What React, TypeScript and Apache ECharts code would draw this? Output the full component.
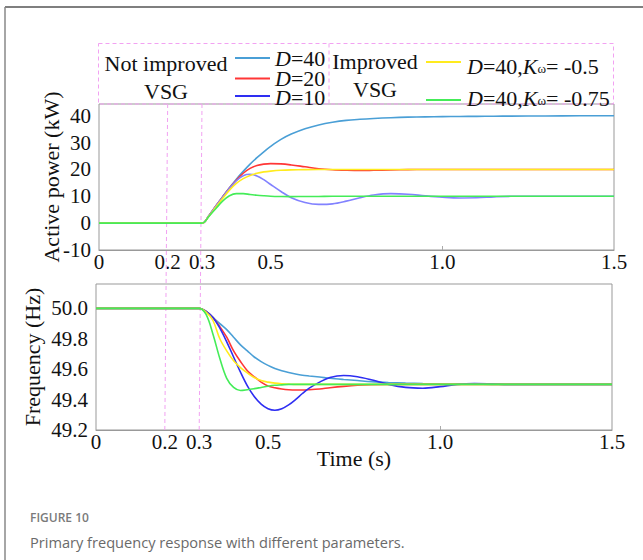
import React, { useEffect, useRef } from "react";
import * as echarts from "echarts";

// ---------- data ----------
const timeP = [0, 0.3, 0.32, 0.34, 0.36, 0.38, 0.4, 0.42, 0.44, 0.46, 0.48, 0.5, 0.53, 0.56, 0.6, 0.64, 0.68, 0.72, 0.76, 0.8, 0.85, 0.9, 0.95, 1.0, 1.05, 1.1, 1.15, 1.2, 1.3, 1.4, 1.5];
const powerD40 = [0, 0, 2.8, 6.3, 9.8, 13.2, 16.4, 19.3, 22.0, 24.4, 26.6, 28.6, 31.2, 33.2, 35.2, 36.6, 37.6, 38.3, 38.7, 39.0, 39.3, 39.5, 39.6, 39.7, 39.75, 39.8, 39.85, 39.9, 39.95, 40, 40];
const powerD20 = [0, 0, 2.8, 6.3, 9.8, 13.1, 16.0, 18.6, 20.4, 21.5, 22.0, 22.2, 22.1, 21.7, 21.0, 20.3, 19.9, 19.7, 19.6, 19.7, 19.85, 19.95, 20, 20, 20, 20, 20, 20, 20, 20, 20];
const powerD10 = [0, 0, 2.8, 6.3, 9.7, 13.0, 15.8, 17.7, 18.2, 17.6, 16.2, 14.4, 11.8, 9.5, 7.7, 7.0, 7.2, 8.2, 9.5, 10.5, 11.0, 10.8, 10.2, 9.7, 9.4, 9.45, 9.8, 10.0, 10.0, 10.0, 10.0];
const powerK05 = [0, 0, 2.6, 5.9, 9.2, 12.3, 14.8, 16.6, 17.8, 18.6, 19.1, 19.4, 19.7, 19.85, 19.95, 20, 20, 20, 20, 20, 20, 20, 20, 20, 20, 20, 20, 20, 20, 20, 20];
const powerK075 = [0, 0, 2.5, 5.4, 8.2, 10.2, 11.0, 11.0, 10.7, 10.4, 10.2, 10.05, 9.95, 9.9, 9.92, 9.95, 10, 10, 10, 10, 10, 10, 10, 10, 10, 10, 10, 10, 10, 10, 10];

const timeF = [0, 0.3, 0.32, 0.34, 0.36, 0.38, 0.4, 0.42, 0.44, 0.46, 0.48, 0.5, 0.52, 0.54, 0.56, 0.58, 0.6, 0.62, 0.65, 0.68, 0.72, 0.76, 0.8, 0.85, 0.9, 0.95, 1.0, 1.05, 1.1, 1.15, 1.2, 1.3, 1.4, 1.5];
const freqD40 = [50.0, 50.0, 49.98, 49.94, 49.9, 49.86, 49.81, 49.76, 49.72, 49.68, 49.65, 49.625, 49.605, 49.59, 49.578, 49.568, 49.56, 49.555, 49.548, 49.54, 49.532, 49.525, 49.518, 49.512, 49.508, 49.505, 49.503, 49.502, 49.501, 49.5, 49.5, 49.5, 49.5, 49.5];
const freqD20 = [50.0, 50.0, 49.98, 49.94, 49.88, 49.81, 49.72, 49.65, 49.59, 49.55, 49.515, 49.49, 49.478, 49.47, 49.465, 49.463, 49.463, 49.465, 49.47, 49.478, 49.487, 49.494, 49.498, 49.5, 49.5, 49.5, 49.5, 49.5, 49.5, 49.5, 49.5, 49.5, 49.5, 49.5];
const freqD10 = [50.0, 50.0, 49.98, 49.94, 49.87, 49.78, 49.68, 49.58, 49.49, 49.42, 49.37, 49.34, 49.33, 49.34, 49.365, 49.4, 49.44, 49.475, 49.515, 49.545, 49.558, 49.55, 49.53, 49.5, 49.48, 49.475, 49.485, 49.5, 49.505, 49.503, 49.5, 49.5, 49.5, 49.5];
const freqK05 = [50.0, 50.0, 49.975, 49.92, 49.8, 49.72, 49.655, 49.61, 49.575, 49.545, 49.525, 49.515, 49.508, 49.504, 49.502, 49.5, 49.5, 49.5, 49.5, 49.5, 49.5, 49.5, 49.5, 49.5, 49.5, 49.5, 49.5, 49.5, 49.5, 49.5, 49.5, 49.5, 49.5, 49.5];
const freqK075 = [50.0, 50.0, 49.96, 49.83, 49.67, 49.54, 49.48, 49.46, 49.465, 49.472, 49.48, 49.488, 49.494, 49.497, 49.5, 49.5, 49.5, 49.5, 49.5, 49.5, 49.5, 49.5, 49.5, 49.5, 49.5, 49.5, 49.5, 49.5, 49.5, 49.5, 49.5, 49.5, 49.5, 49.5];

const xTickValues = [0, 0.2, 0.3, 0.5, 1.0, 1.5];
const xInnerTicks = [1.0];
const powerTicks = [-10, 0, 10, 20, 30, 40];
const freqTicks = [49.2, 49.4, 49.6, 49.8, 50.0];
const markerTimes = [0.2, 0.3];

const legendLeftTitle = ["Not improved", "VSG"];
const legendRightTitle = ["Improved", "VSG"];
const legendLeftItems = ["{i|D}=40", "{i|D}=20", "{i|D}=10"];
const legendRightItems = ["{i|D}=40,{i|K}{s|ω}= -0.5", "{i|D}=40,{i|K}{s|ω}= -0.75"];

// ---------- style ----------
const SERIF = '"Liberation Serif", "Times New Roman", serif';
const C40 = "#4a9fd6";
const C20 = "#ff3636";
const C10TOP = "#8282ff";
const C10 = "#2e2ef2";
const CK05 = "#ffeb1e";
const CK075 = "#44ec58";
const PINK = "#f2a2f2";

const zip = (t: number[], v: number[]) => t.map((x, i) => [x, v[i]]);

export default function App() {
  const ref = useRef<HTMLDivElement>(null);

  useEffect(() => {
    if (!ref.current) return;
    const chart = echarts.init(ref.current, undefined, { renderer: "svg" });

    const xAxisCommon = (gridIndex: number) => ({
      type: "value" as const,
      gridIndex,
      position: "bottom" as const,
      min: 0,
      max: 1.5,
      axisLine: { show: true, onZero: false, lineStyle: { color: "#999", width: 1 } },
      splitLine: { show: false },
      axisTick: {
        show: true,
        inside: true,
        length: 4,
        customValues: xInnerTicks,
        lineStyle: { color: "#aaa" },
      },
      axisLabel: {
        customValues: xTickValues,
        formatter: (v: number) => (v === 0 ? "0" : v.toFixed(1)),
        fontFamily: SERIF,
        fontSize: 21,
        color: "#111",
        margin: 1,
      },
    });

    const line = (
      name: string,
      t: number[],
      v: number[],
      color: string,
      idx: number
    ) => ({
      name,
      type: "line" as const,
      xAxisIndex: idx,
      yAxisIndex: idx,
      data: zip(t, v),
      showSymbol: false,
      smooth: 0.35,
      lineStyle: { color, width: 1.6 },
      itemStyle: { color },
    });

    chart.setOption({
      animation: false,
      backgroundColor: "#fff",
      grid: [
        { left: 99, top: 104, width: 515, height: 146, show: true, borderColor: "#999", borderWidth: 1 },
        { left: 96, top: 284, width: 516, height: 146, show: true, borderColor: "#999", borderWidth: 1 },
      ],
      xAxis: [
        xAxisCommon(0),
        {
          ...xAxisCommon(1),
          name: "Time (s)",
          nameLocation: "middle",
          nameGap: 17,
          nameMoveOverlap: false,
          nameTextStyle: { fontFamily: SERIF, fontSize: 22, color: "#111" },
        },
      ],
      yAxis: [
        {
          type: "value",
          gridIndex: 0,
          min: -10,
          max: 44.4,
          axisLine: { show: false, onZero: false },
          axisTick: { show: false },
          splitLine: { show: false },
          axisLabel: {
            customValues: powerTicks,
            fontFamily: SERIF,
            fontSize: 21,
            color: "#111",
            margin: 8,
          },
          name: "Active power (kW)",
          nameLocation: "middle",
          nameGap: 37,
          nameMoveOverlap: false,
          nameTextStyle: { fontFamily: SERIF, fontSize: 22, color: "#111" },
        },
        {
          type: "value",
          gridIndex: 1,
          min: 49.2,
          max: 50.16,
          axisLine: { show: false, onZero: false },
          axisTick: { show: false },
          splitLine: { show: false },
          axisLabel: {
            customValues: freqTicks,
            formatter: (v: number) => v.toFixed(1),
            fontFamily: SERIF,
            fontSize: 21,
            color: "#111",
            margin: 8,
          },
          name: "Frequency (Hz)",
          nameLocation: "middle",
          nameGap: 53,
          nameMoveOverlap: false,
          nameTextStyle: { fontFamily: SERIF, fontSize: 22, color: "#111" },
        },
      ],
      series: [
        line("D=40", timeP, powerD40, C40, 0),
        line("D=20", timeP, powerD20, C20, 0),
        line("D=10", timeP, powerD10, C10TOP, 0),
        line("D=40,Kω=-0.5", timeP, powerK05, CK05, 0),
        line("D=40,Kω=-0.75", timeP, powerK075, CK075, 0),
        line("D=40 f", timeF, freqD40, C40, 1),
        line("D=20 f", timeF, freqD20, C20, 1),
        line("D=10 f", timeF, freqD10, C10, 1),
        line("D=40,Kω=-0.5 f", timeF, freqK05, CK05, 1),
        line("D=40,Kω=-0.75 f", timeF, freqK075, CK075, 1),
      ],
    });

    // dashed markers through both plots, positioned with the axes' scales
    const topY = 104;
    const botY = 430;
    const markers = markerTimes.map((t) => {
      const xa = chart.convertToPixel({ xAxisIndex: 0 }, t) as number;
      const xb = chart.convertToPixel({ xAxisIndex: 1 }, t) as number;
      return {
        type: "line",
        shape: { x1: xa, y1: topY, x2: xb, y2: botY },
        style: { stroke: PINK, lineWidth: 1, lineDash: [4, 3] },
        z: 1,
        silent: true,
      };
    });

    const rich = {
      i: { fontStyle: "italic", fontFamily: SERIF, fontSize: 22, fill: "#111", lineHeight: 17 },
      s: { fontFamily: SERIF, fontSize: 13, fill: "#111", verticalAlign: "bottom", lineHeight: 12 },
    };

    const txt = (text: string, x: number, y: number, align: string) => ({
      type: "text",
      x,
      y,
      z: 10,
      style: {
        text,
        fontFamily: SERIF,
        fontSize: 22,
        lineHeight: 17,
        fill: "#111",
        align,
        verticalAlign: "middle",
        rich,
      },
    });

    const seg = (x1: number, x2: number, y: number, color: string) => ({
      type: "line",
      shape: { x1, y1: y, x2, y2: y },
      style: { stroke: color, lineWidth: 2 },
      z: 10,
    });

    chart.setOption({
      graphic: [
        // page frame
        { type: "line", shape: { x1: 5, y1: 7, x2: 643, y2: 7 }, style: { stroke: "#555", lineWidth: 1.5 } },
        { type: "line", shape: { x1: 5, y1: 7, x2: 5, y2: 560 }, style: { stroke: "#888", lineWidth: 1.5 } },
        // legend box
        {
          type: "rect",
          shape: { x: 98.5, y: 43.5, width: 515, height: 60.5 },
          style: { fill: "none", stroke: PINK, lineWidth: 1, lineDash: [4, 3] },
          z: 9,
        },
        { type: "line", shape: { x1: 329, y1: 43.5, x2: 329, y2: 104 }, style: { stroke: PINK, lineWidth: 1, lineDash: [4, 3] }, z: 9 },
        ...markers,
        txt(legendLeftTitle[0], 166, 63, "center"),
        txt(legendLeftTitle[1], 166, 91, "center"),
        seg(235, 270, 58, C40),
        seg(235, 270, 78.5, C20),
        seg(235, 270, 96, C10),
        txt(legendLeftItems[0], 275, 58.5, "left"),
        txt(legendLeftItems[1], 275, 78.5, "left"),
        txt(legendLeftItems[2], 275, 97.5, "left"),
        txt(legendRightTitle[0], 375, 61, "center"),
        txt(legendRightTitle[1], 375, 89, "center"),
        seg(426, 461, 62, CK05),
        seg(426, 461, 100, CK075),
        txt(legendRightItems[0], 467, 66, "left"),
        txt(legendRightItems[1], 467, 98, "left"),
        // caption
        {
          type: "text",
          x: 30,
          y: 517,
          style: { text: "FIGURE 10", fontFamily: '"Open Sans", sans-serif', fontWeight: 600, fontSize: 12, fill: "#7a7a7a", verticalAlign: "middle" },
        },
        {
          type: "text",
          x: 30,
          y: 542,
          style: { text: "Primary frequency response with different parameters.", fontFamily: '"Open Sans", sans-serif', fontSize: 14.6, fill: "#6a6a6a", verticalAlign: "middle" },
        },
      ],
    });

    return () => chart.dispose();
  }, []);

  return (
    <div
      ref={ref}
      style={{ position: "absolute", left: 0, top: 0, width: 643, height: 560, background: "#fff" }}
    />
  );
}
